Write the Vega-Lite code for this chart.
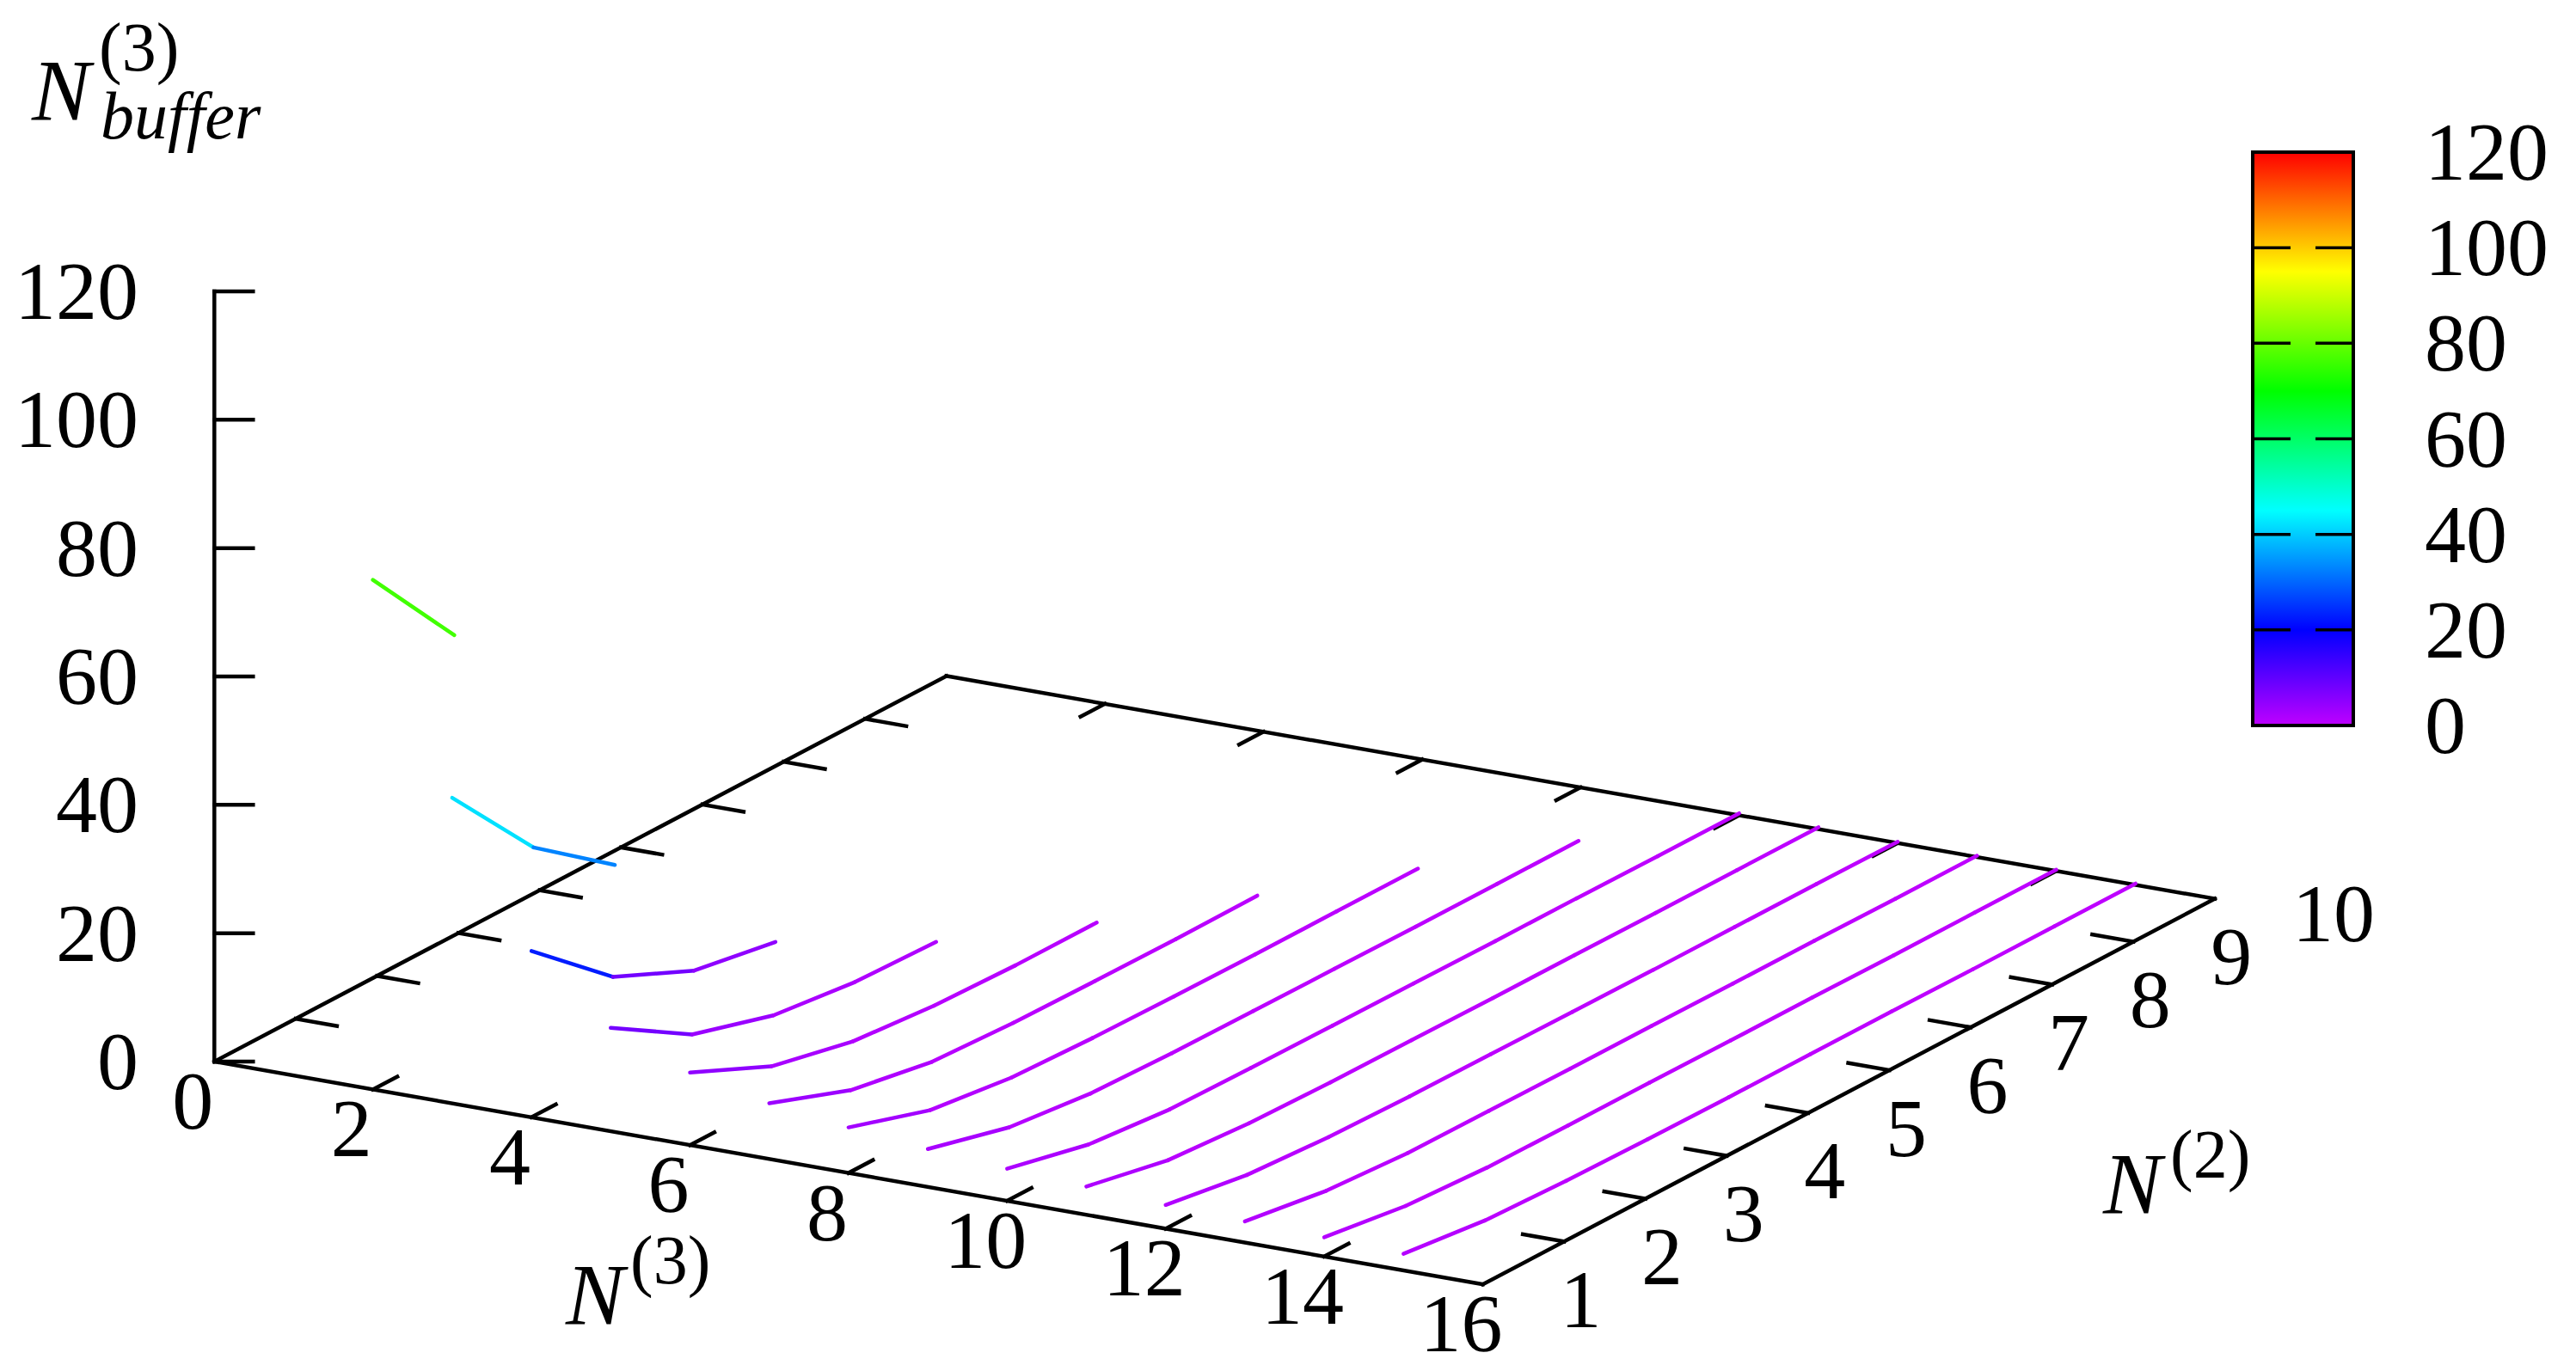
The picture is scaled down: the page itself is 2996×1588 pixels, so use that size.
{"$schema":"https://vega.github.io/schema/vega-lite/v6.json","width":2996,"height":1588,"autosize":{"type":"none"},"padding":0,"background":"white","config":{"view":{"stroke":null},"text":{"font":"Liberation Serif","fontSize":96,"color":"black","baseline":"alphabetic"}},
"datasets":{
"series":[
{"n3":2,"n2":1,"value":79.4},{"n3":2,"n2":2,"value":64.1},
{"n3":3,"n2":1,"value":47.6},{"n3":3,"n2":2,"value":33.2},{"n3":3,"n2":3,"value":23.8},
{"n3":4,"n2":1,"value":25.9},{"n3":4,"n2":2,"value":15.2},{"n3":4,"n2":3,"value":9.5},{"n3":4,"n2":4,"value":7.3},
{"n3":5,"n2":1,"value":16.1},{"n3":5,"n2":2,"value":8.4},{"n3":5,"n2":3,"value":4.7},{"n3":5,"n2":4,"value":3.2},{"n3":5,"n2":5,"value":2.8},
{"n3":6,"n2":1,"value":11.3},{"n3":6,"n2":2,"value":5.6},{"n3":6,"n2":3,"value":2.8},{"n3":6,"n2":4,"value":1.7},{"n3":6,"n2":5,"value":1.3},{"n3":6,"n2":6,"value":1.3},
{"n3":7,"n2":1,"value":8.7},{"n3":7,"n2":2,"value":4.05},{"n3":7,"n2":3,"value":1.8},{"n3":7,"n2":4,"value":1.2},{"n3":7,"n2":5,"value":1},{"n3":7,"n2":6,"value":0.9},{"n3":7,"n2":7,"value":1},
{"n3":8,"n2":1,"value":7.1},{"n3":8,"n2":2,"value":3.1},{"n3":8,"n2":3,"value":1.5},{"n3":8,"n2":4,"value":1},{"n3":8,"n2":5,"value":0.8},{"n3":8,"n2":6,"value":0.7},{"n3":8,"n2":7,"value":0.7},{"n3":8,"n2":8,"value":0.7},
{"n3":9,"n2":1,"value":5.9},{"n3":9,"n2":2,"value":2.6},{"n3":9,"n2":3,"value":1.2},{"n3":9,"n2":4,"value":0.8},{"n3":9,"n2":5,"value":0.7},{"n3":9,"n2":6,"value":0.6},{"n3":9,"n2":7,"value":0.5},{"n3":9,"n2":8,"value":0.5},{"n3":9,"n2":9,"value":0.5},
{"n3":10,"n2":1,"value":5},{"n3":10,"n2":2,"value":2.1},{"n3":10,"n2":3,"value":0.9},{"n3":10,"n2":4,"value":0.7},{"n3":10,"n2":5,"value":0.6},{"n3":10,"n2":6,"value":0.5},{"n3":10,"n2":7,"value":0.4},{"n3":10,"n2":8,"value":0.4},{"n3":10,"n2":9,"value":0.3},{"n3":10,"n2":10,"value":0.3},
{"n3":11,"n2":1,"value":4.4},{"n3":11,"n2":2,"value":1.8},{"n3":11,"n2":3,"value":0.9},{"n3":11,"n2":4,"value":0.6},{"n3":11,"n2":5,"value":0.5},{"n3":11,"n2":6,"value":0.4},{"n3":11,"n2":7,"value":0.4},{"n3":11,"n2":8,"value":0.3},{"n3":11,"n2":9,"value":0.3},{"n3":11,"n2":10,"value":0.3},
{"n3":12,"n2":1,"value":3.7},{"n3":12,"n2":2,"value":1.7},{"n3":12,"n2":3,"value":0.9},{"n3":12,"n2":4,"value":0.6},{"n3":12,"n2":5,"value":0.5},{"n3":12,"n2":6,"value":0.4},{"n3":12,"n2":7,"value":0.3},{"n3":12,"n2":8,"value":0.3},{"n3":12,"n2":9,"value":0.3},{"n3":12,"n2":10,"value":0.2},
{"n3":13,"n2":1,"value":3.3},{"n3":13,"n2":2,"value":1.4},{"n3":13,"n2":3,"value":0.6},{"n3":13,"n2":4,"value":0.5},{"n3":13,"n2":5,"value":0.4},{"n3":13,"n2":6,"value":0.4},{"n3":13,"n2":7,"value":0.3},{"n3":13,"n2":8,"value":0.3},{"n3":13,"n2":9,"value":0.2},{"n3":13,"n2":10,"value":0.2},
{"n3":14,"n2":1,"value":3},{"n3":14,"n2":2,"value":1.2},{"n3":14,"n2":3,"value":0.5},{"n3":14,"n2":4,"value":0.4},{"n3":14,"n2":5,"value":0.4},{"n3":14,"n2":6,"value":0.3},{"n3":14,"n2":7,"value":0.3},{"n3":14,"n2":8,"value":0.2},{"n3":14,"n2":9,"value":0.2},{"n3":14,"n2":10,"value":0.2},
{"n3":15,"n2":1,"value":2.6},{"n3":15,"n2":2,"value":1.1},{"n3":15,"n2":3,"value":0.6},{"n3":15,"n2":4,"value":0.4},{"n3":15,"n2":5,"value":0.3},{"n3":15,"n2":6,"value":0.3},{"n3":15,"n2":7,"value":0.3},{"n3":15,"n2":8,"value":0.2},{"n3":15,"n2":9,"value":0.2},{"n3":15,"n2":10,"value":0.2}
],
"frame":[
{"n3":0,"n2":1,"z":0,"n3b":16,"n2b":1,"zb":0},{"n3":16,"n2":1,"z":0,"n3b":16,"n2b":10,"zb":0},{"n3":16,"n2":10,"z":0,"n3b":0,"n2b":10,"zb":0},{"n3":0,"n2":10,"z":0,"n3b":0,"n2b":1,"zb":0},{"n3":0,"n2":1,"z":0,"n3b":0,"n2b":1,"zb":120},
{"n3":0,"n2":1,"z":0,"n3b":0.366,"n2b":1.119,"zb":0},{"n3":0,"n2":1,"z":20,"n3b":0.366,"n2b":1.119,"zb":20},{"n3":0,"n2":1,"z":40,"n3b":0.366,"n2b":1.119,"zb":40},{"n3":0,"n2":1,"z":60,"n3b":0.366,"n2b":1.119,"zb":60},{"n3":0,"n2":1,"z":80,"n3b":0.366,"n2b":1.119,"zb":80},{"n3":0,"n2":1,"z":100,"n3b":0.366,"n2b":1.119,"zb":100},{"n3":0,"n2":1,"z":120,"n3b":0.366,"n2b":1.119,"zb":120},
{"n3":2,"n2":1,"z":0,"n3b":2,"n2b":1.3,"zb":0},{"n3":4,"n2":1,"z":0,"n3b":4,"n2b":1.3,"zb":0},{"n3":6,"n2":1,"z":0,"n3b":6,"n2b":1.3,"zb":0},{"n3":8,"n2":1,"z":0,"n3b":8,"n2b":1.3,"zb":0},{"n3":10,"n2":1,"z":0,"n3b":10,"n2b":1.3,"zb":0},{"n3":12,"n2":1,"z":0,"n3b":12,"n2b":1.3,"zb":0},{"n3":14,"n2":1,"z":0,"n3b":14,"n2b":1.3,"zb":0},
{"n3":2,"n2":10,"z":0,"n3b":2,"n2b":9.7,"zb":0},{"n3":4,"n2":10,"z":0,"n3b":4,"n2b":9.7,"zb":0},{"n3":6,"n2":10,"z":0,"n3b":6,"n2b":9.7,"zb":0},{"n3":8,"n2":10,"z":0,"n3b":8,"n2b":9.7,"zb":0},{"n3":10,"n2":10,"z":0,"n3b":10,"n2b":9.7,"zb":0},{"n3":12,"n2":10,"z":0,"n3b":12,"n2b":9.7,"zb":0},{"n3":14,"n2":10,"z":0,"n3b":14,"n2b":9.7,"zb":0},
{"n3":0,"n2":2,"z":0,"n3b":0.52,"n2b":2,"zb":0},{"n3":0,"n2":3,"z":0,"n3b":0.52,"n2b":3,"zb":0},{"n3":0,"n2":4,"z":0,"n3b":0.52,"n2b":4,"zb":0},{"n3":0,"n2":5,"z":0,"n3b":0.52,"n2b":5,"zb":0},{"n3":0,"n2":6,"z":0,"n3b":0.52,"n2b":6,"zb":0},{"n3":0,"n2":7,"z":0,"n3b":0.52,"n2b":7,"zb":0},{"n3":0,"n2":8,"z":0,"n3b":0.52,"n2b":8,"zb":0},{"n3":0,"n2":9,"z":0,"n3b":0.52,"n2b":9,"zb":0},
{"n3":16,"n2":2,"z":0,"n3b":15.48,"n2b":2,"zb":0},{"n3":16,"n2":3,"z":0,"n3b":15.48,"n2b":3,"zb":0},{"n3":16,"n2":4,"z":0,"n3b":15.48,"n2b":4,"zb":0},{"n3":16,"n2":5,"z":0,"n3b":15.48,"n2b":5,"zb":0},{"n3":16,"n2":6,"z":0,"n3b":15.48,"n2b":6,"zb":0},{"n3":16,"n2":7,"z":0,"n3b":15.48,"n2b":7,"zb":0},{"n3":16,"n2":8,"z":0,"n3b":15.48,"n2b":8,"zb":0},{"n3":16,"n2":9,"z":0,"n3b":15.48,"n2b":9,"zb":0}
]},
"layer":[
{"data":{"name":"frame"},"transform":[
{"calculate":"249.3+92.2*datum.n3+94.6*(datum.n2-1)","as":"px"},
{"calculate":"1235+16.2*datum.n3-49.84*(datum.n2-1)-7.467*datum.z","as":"py"},
{"calculate":"249.3+92.2*datum.n3b+94.6*(datum.n2b-1)","as":"px2"},
{"calculate":"1235+16.2*datum.n3b-49.84*(datum.n2b-1)-7.467*datum.zb","as":"py2"}],
"mark":{"type":"rule","color":"black","strokeWidth":4.5,"strokeCap":"square"},
"encoding":{"x":{"field":"px","type":"quantitative","scale":{"domain":[0,2996],"nice":false,"zero":false},"axis":null},"y":{"field":"py","type":"quantitative","scale":{"domain":[1588,0],"nice":false,"zero":false},"axis":null},"x2":{"field":"px2"},"y2":{"field":"py2"}}},
{"data":{"name":"series"},"transform":[
{"window":[{"op":"lead","field":"n2","as":"n2b"},{"op":"lead","field":"value","as":"zb"}],"sort":[{"field":"n2","order":"ascending"}],"groupby":["n3"]},
{"filter":"datum.n2b!=null"},
{"calculate":"(datum.value+datum.zb)/2","as":"level"},
{"calculate":"249.3+92.2*datum.n3+94.6*(datum.n2-1)","as":"px"},
{"calculate":"1235+16.2*datum.n3-49.84*(datum.n2-1)-7.467*datum.value","as":"py"},
{"calculate":"249.3+92.2*datum.n3+94.6*(datum.n2b-1)","as":"px2"},
{"calculate":"1235+16.2*datum.n3-49.84*(datum.n2b-1)-7.467*datum.zb","as":"py2"}],
"mark":{"type":"rule","strokeWidth":4.5,"strokeCap":"round"},
"encoding":{"x":{"field":"px","type":"quantitative","scale":{"domain":[0,2996],"nice":false,"zero":false},"axis":null},"y":{"field":"py","type":"quantitative","scale":{"domain":[1588,0],"nice":false,"zero":false},"axis":null},"x2":{"field":"px2"},"y2":{"field":"py2"},
"color":{"field":"level","type":"quantitative","scale":{"domain":[0,20,45,70,95,120],"range":["#bf00ff","#0000ff","#00ffff","#00ff00","#ffff00","#ff0000"]},
"legend":{"orient":"none","legendX":2620,"legendY":177,"direction":"vertical","title":null,"gradientLength":667,"gradientThickness":116,"gradientOpacity":0,"gradientStrokeWidth":0,"values":[0,20,40,60,80,100,120],"labelFont":"Liberation Serif","labelFontSize":96,"labelColor":"black","labelOffset":84,"labelOverlap":false,"encode":{"labels":{"update":{"baseline":{"value":"middle"},"dy":{"value":3}}}}}}}},
{"data":{"values":[{"bar":"colorbar"}]},
"mark":{"type":"rect","stroke":"black","strokeWidth":4,"fill":{"gradient":"linear","x1":0,"y1":1,"x2":0,"y2":0,"stops":[{"offset":0,"color":"#bf00ff"},{"offset":0.1667,"color":"#0000ff"},{"offset":0.375,"color":"#00ffff"},{"offset":0.5833,"color":"#00ff00"},{"offset":0.7917,"color":"#ffff00"},{"offset":1,"color":"#ff0000"}]}},
"encoding":{"x":{"datum":2620,"type":"quantitative","scale":{"domain":[0,2996],"nice":false,"zero":false},"axis":null},"x2":{"datum":2737},"y":{"datum":177,"type":"quantitative","scale":{"domain":[1588,0],"nice":false,"zero":false},"axis":null},"y2":{"datum":844}}},
{"data":{"values":[{"value":20},{"value":40},{"value":60},{"value":80},{"value":100}]},"transform":[{"calculate":"844-667*datum.value/120","as":"py"}],
"mark":{"type":"rule","color":"black","strokeWidth":3.5},
"encoding":{"x":{"datum":2622,"type":"quantitative","scale":{"domain":[0,2996],"nice":false,"zero":false},"axis":null},"x2":{"datum":2664},"y":{"field":"py","type":"quantitative","scale":{"domain":[1588,0],"nice":false,"zero":false},"axis":null}}},
{"data":{"values":[{"value":20},{"value":40},{"value":60},{"value":80},{"value":100}]},"transform":[{"calculate":"844-667*datum.value/120","as":"py"}],
"mark":{"type":"rule","color":"black","strokeWidth":3.5},
"encoding":{"x":{"datum":2693,"type":"quantitative","scale":{"domain":[0,2996],"nice":false,"zero":false},"axis":null},"x2":{"datum":2735},"y":{"field":"py","type":"quantitative","scale":{"domain":[1588,0],"nice":false,"zero":false},"axis":null}}},
{"data":{"values":[{"z":0},{"z":20},{"z":40},{"z":60},{"z":80},{"z":100},{"z":120}]},"transform":[{"calculate":"1235-7.467*datum.z+32","as":"py"},{"calculate":"161","as":"px"}],
"mark":{"type":"text","align":"right"},
"encoding":{"x":{"field":"px","type":"quantitative","scale":{"domain":[0,2996],"nice":false,"zero":false},"axis":null},"y":{"field":"py","type":"quantitative","scale":{"domain":[1588,0],"nice":false,"zero":false},"axis":null},"text":{"field":"z"}}},
{"data":{"values":[{"n3":0},{"n3":2},{"n3":4},{"n3":6},{"n3":8},{"n3":10},{"n3":12},{"n3":14},{"n3":16}]},"transform":[{"calculate":"249.3+92.2*datum.n3-25","as":"px"},{"calculate":"1235+16.2*datum.n3+46+32","as":"py"}],
"mark":{"type":"text","align":"center"},
"encoding":{"x":{"field":"px","type":"quantitative","scale":{"domain":[0,2996],"nice":false,"zero":false},"axis":null},"y":{"field":"py","type":"quantitative","scale":{"domain":[1588,0],"nice":false,"zero":false},"axis":null},"text":{"field":"n3"}}},
{"data":{"values":[{"n2":1},{"n2":2},{"n2":3},{"n2":4},{"n2":5},{"n2":6},{"n2":7},{"n2":8},{"n2":9},{"n2":10}]},"transform":[{"calculate":"1724.5+94.6*(datum.n2-1)+90","as":"px"},{"calculate":"1494-49.84*(datum.n2-1)+18+32","as":"py"}],
"mark":{"type":"text","align":"left"},
"encoding":{"x":{"field":"px","type":"quantitative","scale":{"domain":[0,2996],"nice":false,"zero":false},"axis":null},"y":{"field":"py","type":"quantitative","scale":{"domain":[1588,0],"nice":false,"zero":false},"axis":null},"text":{"field":"n2"}}},
{"data":{"values":[{"t":"N","px":658,"py":1541},{"t":"N","px":37,"py":139.6},{"t":"N","px":2446,"py":1412}]},
"mark":{"type":"text","align":"left","fontStyle":"italic","fontSize":102},
"encoding":{"x":{"field":"px","type":"quantitative","scale":{"domain":[0,2996],"nice":false,"zero":false},"axis":null},"y":{"field":"py","type":"quantitative","scale":{"domain":[1588,0],"nice":false,"zero":false},"axis":null},"text":{"field":"t"}}},
{"data":{"values":[{"t":"(3)","px":733,"py":1493},{"t":"(3)","px":115,"py":81.5},{"t":"(2)","px":2524,"py":1370}]},
"mark":{"type":"text","align":"left","fontSize":80},
"encoding":{"x":{"field":"px","type":"quantitative","scale":{"domain":[0,2996],"nice":false,"zero":false},"axis":null},"y":{"field":"py","type":"quantitative","scale":{"domain":[1588,0],"nice":false,"zero":false},"axis":null},"text":{"field":"t"}}},
{"data":{"values":[{"t":"buffer","px":117,"py":161}]},
"mark":{"type":"text","align":"left","fontSize":78,"fontStyle":"italic"},
"encoding":{"x":{"field":"px","type":"quantitative","scale":{"domain":[0,2996],"nice":false,"zero":false},"axis":null},"y":{"field":"py","type":"quantitative","scale":{"domain":[1588,0],"nice":false,"zero":false},"axis":null},"text":{"field":"t"}}}
]}
